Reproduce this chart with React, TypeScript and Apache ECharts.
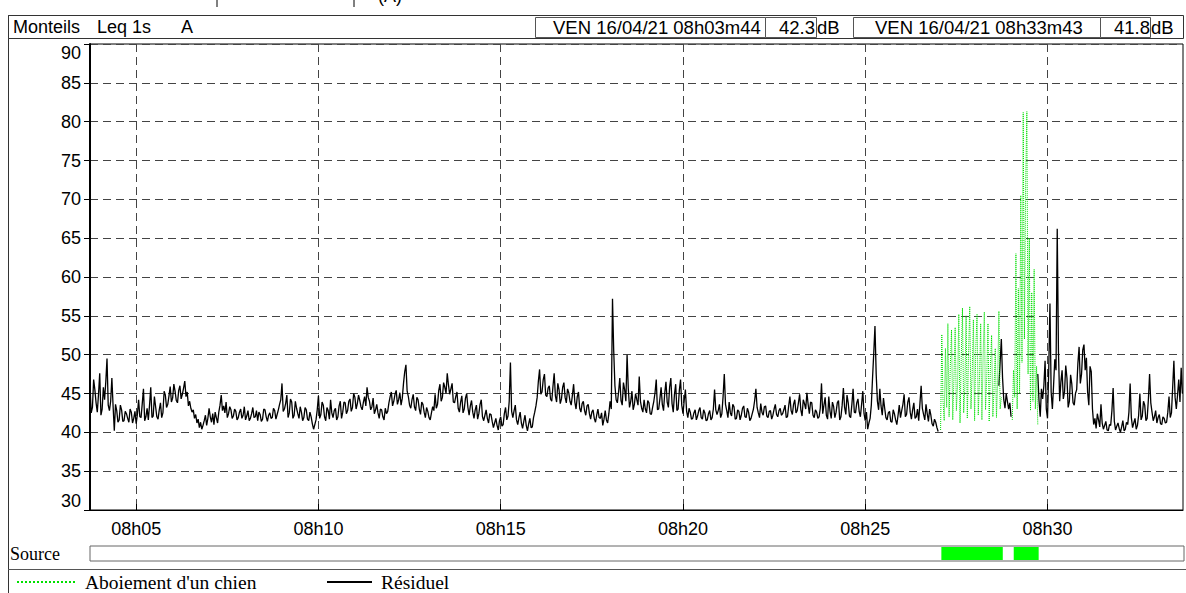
import React, { useEffect, useRef } from "react";
import * as echarts from "echarts";

const at = (h: number, m: number, s: number) => new Date(2021, 3, 16, h, m, s).getTime();

// Header texts
const SITE = "Monteils";
const INDEX = "Leq 1s";
const WEIGHTING = "A";
const START_LABEL = "VEN 16/04/21 08h03m44";
const START_LEVEL = "42.3";
const END_LABEL = "VEN 16/04/21 08h33m43";
const END_LEVEL = "41.8";
const UNIT = "dB";

const T_START = at(8, 3, 44);
const T_END = at(8, 33, 43);

// x tick labels every 5 minutes
const X_TICKS = [at(8, 5, 0), at(8, 10, 0), at(8, 15, 0), at(8, 20, 0), at(8, 25, 0), at(8, 30, 0)];

const SERIES_DOG = "Aboiement d'un chien";
const SERIES_RES = "Résiduel";

// Résiduel, one value every 2 s
const RESIDUAL_STEP_S = 2;
const residualA_start = at(8, 3, 44);
const residualA = [
  46.0, 42.5, 43.2, 46.8, 45.5, 43.8, 42.6, 44.9, 47.6, 42.2, 43.0, 45.8, 44.2, 46.5, 49.5, 43.5, 42.8, 44.0, 47.0, 43.4, 40.2, 43.6, 42.8, 41.3, 41.6, 43.5, 42.9, 41.4, 41.5, 42.7,
  42.4, 41.8, 41.3, 43.0, 42.6, 41.2, 41.8, 42.7, 41.1, 42.3, 44.2, 42.0, 41.9, 43.7, 45.6, 41.5, 42.0, 43.1, 41.6, 43.5, 45.8, 41.9, 42.1, 44.6, 43.3, 42.0, 41.7, 42.9, 43.8, 41.9,
  42.5, 45.3, 44.8, 43.2, 43.6, 44.7, 45.9, 43.9, 44.4, 46.2, 45.3, 44.1, 43.8, 45.4, 46.0, 44.3, 44.9, 45.7, 46.6, 44.6, 45.2, 43.4, 44.0, 43.1, 42.6, 42.9, 41.8, 42.3, 41.2, 41.7,
  40.6, 41.3, 40.4, 40.9, 41.5, 42.2, 40.9, 41.8, 43.1, 42.0, 41.3, 42.4, 41.0, 42.6, 41.9, 41.2, 42.6, 43.5, 44.8, 42.8, 43.4, 42.5, 43.9, 41.9, 42.4, 43.3, 42.9, 41.8, 42.1, 43.0,
  42.7, 41.6, 41.9, 42.6, 43.0, 41.8, 42.2, 43.3, 41.6, 42.1, 42.8, 41.5, 41.8, 42.4, 43.2, 41.9, 42.0, 42.8, 41.5, 42.6, 42.3, 41.4, 41.7, 43.0, 42.9, 42.0, 41.4, 42.2, 42.5, 41.8,
  41.9, 43.1, 42.8, 41.7, 42.3, 42.9, 43.6, 44.2, 46.3, 42.7, 43.0, 43.7, 44.8, 41.9, 42.5, 44.3, 43.9, 41.8, 42.2, 44.0, 43.1, 42.4, 41.8, 43.3, 42.6, 41.5, 41.9, 43.2, 42.9, 41.7,
  41.5, 42.6, 42.0, 41.1, 40.4, 41.0, 41.6, 42.9, 44.7, 41.8, 42.3, 43.9, 43.5, 42.0, 41.5, 43.2, 42.8, 41.7, 44.2, 42.5, 41.9, 42.8, 43.1, 41.6, 42.0, 43.4, 44.0, 41.8, 42.6, 43.9,
  43.8, 42.4, 42.8, 44.0, 44.3, 42.7, 43.2, 45.0, 44.5, 43.0, 43.7, 44.8, 44.1, 43.3, 42.9, 43.9, 44.6, 43.4, 45.8, 44.5, 44.0, 42.9, 43.3, 44.4, 42.4, 42.9, 43.6, 42.5, 41.8, 43.0,
  42.9, 42.0, 41.6, 43.1, 42.4, 42.7, 43.8, 44.6, 45.2, 43.4, 44.0, 44.9, 45.4, 43.6, 44.2, 45.1, 43.5, 44.4, 46.3, 47.8, 48.7, 45.3, 44.6, 43.5, 43.1, 44.2, 44.9, 43.3, 42.8, 44.5,
  44.2, 43.0, 42.3, 43.9, 43.6, 42.6, 41.9, 43.2, 42.7, 41.9, 41.6, 42.5, 43.3, 42.8, 44.9, 43.1, 43.6, 45.4, 46.2, 44.0, 44.5, 46.4, 45.8, 45.0, 47.6, 46.1, 44.9, 45.6, 46.3, 43.9,
  43.8, 44.6, 45.2, 43.1, 42.6, 43.9, 44.7, 42.5, 43.0, 44.4, 45.0, 43.2, 42.2, 43.4, 44.1, 42.6, 41.8, 42.9, 43.5, 41.7, 42.4, 43.6, 44.2, 42.0, 41.5, 42.2, 42.9, 41.8, 41.2, 42.4,
  42.3, 41.4, 40.6, 41.2, 41.8, 40.9, 40.3, 41.5, 42.0, 40.8, 41.0, 42.4, 43.2, 41.6, 42.1, 44.0, 49.0, 42.7, 41.9, 42.8, 43.5, 41.6, 41.0, 41.9, 42.6, 41.2, 40.5, 41.4, 42.2, 40.9,
  40.2, 41.1, 41.8, 40.6, 40.7, 41.9, 42.6, 43.4, 44.5, 46.6, 48.1, 44.9, 45.2, 46.8, 47.5, 44.8, 44.6, 45.7, 46.0, 44.3, 44.0, 45.9, 47.6, 44.7, 43.9, 46.3, 45.5, 43.7, 44.3, 45.8,
  46.4, 44.5, 43.8, 45.6, 45.1, 44.0, 43.5, 44.8, 46.2, 43.9, 43.0, 44.6, 45.2, 43.1, 42.6, 43.7, 44.0, 42.8, 42.2, 43.4, 43.6, 42.4, 41.7, 42.6, 42.9, 41.8, 41.3, 42.2, 43.0, 41.9,
  41.8, 42.5, 40.9, 41.7, 42.8, 41.6, 41.2, 42.4, 44.0, 43.0, 57.2, 50.5, 46.0, 44.2, 43.8, 45.2, 47.0, 44.1, 43.5, 46.4, 45.5, 44.0, 50.0, 45.6, 43.2, 44.0, 45.3, 42.9, 43.6, 45.0,
  44.2, 43.5, 47.2, 44.0, 43.1, 42.6, 44.2, 43.0, 42.5, 44.1, 43.8, 42.4, 42.3, 43.2, 44.0, 45.1, 46.8, 42.9, 43.0, 44.3, 45.8, 43.6, 42.8, 45.1, 46.5, 43.9, 43.2, 45.8, 47.0, 43.7,
  42.6, 44.9, 46.2, 42.8, 43.0, 45.4, 46.8, 43.5, 42.4, 44.1, 45.5, 42.7, 41.9, 43.1, 42.6, 41.7, 41.8, 42.5, 42.9, 41.6, 42.1, 42.8, 43.2, 41.9, 41.7, 42.9, 42.5, 41.5, 41.6, 42.4,
  42.8, 41.6, 41.9, 43.0, 45.5, 42.9, 42.3, 42.8, 43.6, 41.9, 42.4, 44.6, 47.5, 43.6, 42.8, 41.9, 43.9, 42.5, 42.1, 43.6, 43.3, 41.7, 41.8, 42.9, 42.7, 41.6, 42.2, 43.1, 43.4, 42.0,
  41.9, 43.1, 42.6, 41.5, 41.8, 42.4, 43.0, 44.1, 45.6, 43.2, 42.5, 41.9, 43.7, 42.6, 42.2, 43.3, 43.4, 42.1, 41.9, 42.7, 42.8, 41.7, 42.2, 43.0, 43.6, 42.3, 42.0, 42.8, 43.1, 42.2,
  42.4, 42.9, 43.5, 41.9, 42.0, 43.4, 44.6, 42.8, 42.3, 43.6, 44.2, 42.5, 42.8, 43.8, 44.9, 42.9, 42.1, 44.2, 43.7, 43.0, 45.1, 43.6, 42.4, 43.9, 43.8, 42.2, 41.9, 42.9, 42.6, 41.8,
  42.0, 43.1, 46.3, 42.4, 43.5, 44.5, 42.2, 41.7, 44.6, 42.7, 41.8, 43.9, 43.3, 41.9, 42.6, 43.8, 44.1, 41.6, 42.0, 43.5, 45.7, 43.2, 42.3, 44.8, 43.8, 42.1, 41.9, 43.6, 45.6, 42.6,
  42.5, 43.8, 44.3, 42.7, 42.0, 43.6, 45.3, 42.4, 41.5, 42.6, 40.4, 41.2, 41.8, 43.5, 47.0, 50.2, 53.7, 47.5, 44.0, 42.9, 45.6, 43.4, 42.2, 44.4, 43.1, 41.9, 41.6, 42.5, 42.7, 41.4,
  41.3, 42.9, 42.4, 41.6, 41.0, 42.2, 43.5, 41.9, 42.8, 43.6, 44.9, 42.0, 42.3, 43.9, 44.5, 42.6, 41.7, 42.9, 43.8, 41.8, 42.0, 43.0, 41.5, 43.7, 46.0, 43.1, 42.3, 41.6, 43.6, 42.4,
  41.4, 43.0, 42.2, 41.1, 40.8, 41.7, 41.3, 40.6, 40.1,
];
const residualB_start = at(8, 28, 40);
const residualB = [46.0, 49.0, 52.0, 47.0, 44.2, 43.1, 45.0, 44.0, 43.0, 43.8, 42.0];
const residualC_start = at(8, 29, 44);
const residualC = [
  47.5, 44.1, 42.0, 45.6, 44.3, 46.0, 49.2, 43.0, 41.8, 48.0, 56.6, 45.2, 43.0, 46.1, 49.4, 48.0, 66.2, 50.5, 44.0, 46.5, 48.0, 44.3, 45.2, 48.6, 47.0, 43.2, 44.0, 47.4, 46.2, 43.8,
  43.5, 45.0, 45.5, 48.9, 51.0, 46.3, 47.5, 50.6, 51.3, 48.0, 49.6, 45.2, 43.5, 48.5, 47.8, 43.0, 41.0, 41.8, 40.5, 42.4, 41.6, 40.7, 43.6, 41.2, 40.4, 40.9, 41.4, 40.3, 40.2, 41.0,
  40.9, 42.8, 45.7, 41.4, 40.3, 40.8, 41.2, 40.5, 40.0, 40.7, 41.5, 40.2, 40.4, 41.3, 41.0, 42.6, 46.3, 41.9, 40.6, 41.2, 41.8, 40.4, 40.9, 42.2, 45.0, 41.6, 42.1, 44.0, 43.5, 41.5,
  41.8, 44.2, 47.5, 43.8, 42.6, 41.5, 42.0, 42.8, 41.2, 41.9, 42.3, 41.1, 41.0, 42.0, 41.8, 41.2, 41.3, 42.6, 44.6, 41.9, 42.5, 45.8, 49.2, 44.5, 43.0, 44.8, 46.8, 43.9, 48.3, 45.0,
];

// Aboiement d'un chien, one value every 2 s
const DOG_STEP_S = 2;
const dogA_start = at(8, 27, 4);
const dogA = [
  40.3, 52.6, 44.0, 41.5, 50.8, 43.2, 54.0, 42.0, 48.5, 53.2, 41.6, 47.0, 53.5, 42.8, 46.2,
  55.2, 41.2, 49.5, 56.0, 42.5, 45.8, 55.0, 41.8, 50.2, 56.2, 43.0, 47.5, 54.5, 41.5, 51.0,
  55.2, 42.2, 46.8, 54.0, 41.6, 49.8, 55.5, 42.9, 47.2, 54.0, 41.4, 48.6, 52.5, 42.0, 45.6,
  50.8, 41.9, 47.0, 55.6, 43.0, 44.5,
];
const dogB_start = at(8, 29, 2);
const dogB = [
  41.6, 48.0, 44.5, 63.0, 43.0, 58.5, 45.0, 70.5, 49.0, 81.2, 52.0, 72.0, 81.3, 47.5, 65.0,
  42.8, 58.0, 44.0, 61.0, 43.0, 48.5, 41.0,
];

// Source bar intervals (dog barking)
const sourceIntervals = [
  [at(8, 27, 4), at(8, 28, 45)],
  [at(8, 29, 3), at(8, 29, 44)],
];

const Y_MIN = 30;
const Y_MAX = 90;
const Y_STEP = 5;

function build(start: number, stepS: number, values: number[]) {
  return values.map((v, k) => [start + k * stepS * 1000, v]);
}

const pad = (n: number) => (n < 10 ? "0" + n : "" + n);
const SANS = '"Liberation Sans", Arial, sans-serif';
const SERIF = '"Liberation Serif", "Times New Roman", serif';

export default function App() {
  const ref = useRef<HTMLDivElement>(null);
  useEffect(() => {
    if (!ref.current) return;
    const chart = echarts.init(ref.current, null, { renderer: "svg" });

    const residualData: any[] = [
      ...build(residualA_start, RESIDUAL_STEP_S, residualA),
      [residualA_start + residualA.length * RESIDUAL_STEP_S * 1000, null],
      ...build(residualB_start, RESIDUAL_STEP_S, residualB),
      [residualB_start + residualB.length * RESIDUAL_STEP_S * 1000, null],
      ...build(residualC_start, RESIDUAL_STEP_S, residualC),
    ];
    const dogData: any[] = [
      ...build(dogA_start, DOG_STEP_S, dogA),
      [dogA_start + dogA.length * DOG_STEP_S * 1000, null],
      ...build(dogB_start, DOG_STEP_S, dogB),
    ];

    const txt = (x: number, y: number, text: string, font: string, align = "left") => ({
      type: "text",
      x,
      y,
      silent: true,
      style: { text, font, fill: "#000", align, verticalAlign: "middle" },
    });
    const box = (x: number, y: number, w: number, h: number, stroke = "#555") => ({
      type: "rect",
      silent: true,
      shape: { x, y, width: w, height: h },
      style: { fill: "#fff", stroke, lineWidth: 1 },
    });
    const ln = (x1: number, y1: number, x2: number, y2: number, stroke = "#333", w = 1) => ({
      type: "line",
      silent: true,
      shape: { x1, y1, x2, y2 },
      style: { stroke, lineWidth: w },
    });

    const f18 = `18px ${SANS}`;
    const fHead = `18.5px ${SANS}`;
    const headerY = 27;

    const legendCommon = {
      top: 572,
      padding: 0,
      itemHeight: 14,
      selectedMode: false,
      itemStyle: { opacity: 0 },
      textStyle: { fontFamily: SERIF, fontSize: 19.5, color: "#000", padding: [0, 0, 0, 4] },
    };

    const option: any = {
      animation: false,
      backgroundColor: "#fff",
      grid: [
        { left: 90, right: 3, top: 44, bottom: 83, show: true, borderColor: "#000", borderWidth: 1, backgroundColor: "#fff" },
        { left: 90, right: 2, top: 546, height: 15, show: true, borderColor: "#666", borderWidth: 1, backgroundColor: "#fff" },
      ],
      xAxis: [
        {
          type: "value",
          gridIndex: 0,
          min: T_START,
          max: T_END,
          axisLine: { show: true, onZero: false, lineStyle: { color: "#000", width: 1 } },
          axisTick: { show: true, inside: true, length: 6, customValues: X_TICKS, lineStyle: { color: "#000" } },
          axisLabel: {
            color: "#000",
            fontFamily: SANS,
            fontSize: 18,
            margin: 10,
            customValues: X_TICKS,
            formatter: (v: number) => {
              const d = new Date(v);
              return pad(d.getHours()) + "h" + pad(d.getMinutes());
            },
          },
          splitLine: { show: true, lineStyle: { color: "#444", type: [8, 5], width: 1 } },
        },
        { type: "value", gridIndex: 1, min: T_START, max: T_END, show: false },
      ],
      yAxis: [
        {
          type: "value",
          gridIndex: 0,
          min: Y_MIN,
          max: Y_MAX,
          interval: Y_STEP,
          axisLine: { show: true, lineStyle: { color: "#000", width: 2 } },
          axisTick: { show: true, length: 6, lineStyle: { color: "#000" } },
          axisLabel: {
            color: "#000",
            fontFamily: SANS,
            fontSize: 18,
            margin: 9,
            verticalAlignMaxLabel: "top",
            verticalAlignMinLabel: "bottom",
          },
          splitLine: { show: true, lineStyle: { color: "#444", type: [8, 5], width: 1 } },
        },
        { type: "value", gridIndex: 1, min: 0, max: 1, show: false },
      ],
      legend: [
        { ...legendCommon, data: [SERIES_DOG], left: 16, itemWidth: 59 },
        { ...legendCommon, data: [SERIES_RES], left: 326, itemWidth: 45 },
      ],
      graphic: [
        // cut-off row above the header
        ln(217, 0, 217, 7, "#000"),
        ln(354, 0, 354, 7, "#000"),
        txt(378, -4, "(A)", f18),
        // left frame
        ln(8.5, 15, 8.5, 593, "#333"),
        // header
        box(8.5, 15.5, 1175, 23, "#333"),
        txt(13, headerY, SITE, f18),
        txt(97, headerY, INDEX, f18),
        txt(181, headerY, WEIGHTING, f18),
        box(535.5, 17.5, 230, 20),
        txt(553, headerY, START_LABEL, fHead),
        box(765.5, 17.5, 51, 20),
        txt(815, headerY, START_LEVEL, fHead, "right"),
        txt(817, headerY, UNIT, fHead),
        box(853.5, 17.5, 247, 20),
        txt(875, headerY, END_LABEL, fHead),
        box(1100.5, 17.5, 50, 20),
        txt(1150, headerY, END_LEVEL, fHead, "right"),
        txt(1151, headerY, UNIT, fHead),
        // source label
        txt(10, 554, "Source", `18px ${SERIF}`),
        // legend row separator
        ln(8, 569.5, 1186, 569.5, "#555"),
      ],
      series: [
        {
          name: SERIES_DOG,
          type: "line",
          xAxisIndex: 0,
          yAxisIndex: 0,
          data: dogData,
          symbol: "none",
          connectNulls: false,
          lineStyle: { color: "#00e000", width: 1, type: "dotted" },
          itemStyle: { color: "#00e000" },
          z: 3,
        },
        {
          name: SERIES_RES,
          type: "line",
          xAxisIndex: 0,
          yAxisIndex: 0,
          data: residualData,
          symbol: "none",
          connectNulls: false,
          lineStyle: { color: "#000", width: 1.3 },
          itemStyle: { color: "#000" },
          z: 2,
        },
        {
          type: "custom",
          xAxisIndex: 1,
          yAxisIndex: 1,
          silent: true,
          data: sourceIntervals,
          encode: { x: [0, 1] },
          renderItem: (params: any, api: any) => {
            const a = api.coord([api.value(0), 0.5]);
            const b = api.coord([api.value(1), 0.5]);
            const cs = params.coordSys;
            return {
              type: "rect",
              shape: { x: a[0], y: cs.y + 1, width: b[0] - a[0], height: cs.height - 2 },
              style: { fill: "#00ff00" },
            };
          },
        },
      ],
    };
    chart.setOption(option);
    return () => chart.dispose();
  }, []);
  return <div ref={ref} style={{ width: 1186, height: 593, position: "absolute", left: 0, top: 0 }} />;
}
